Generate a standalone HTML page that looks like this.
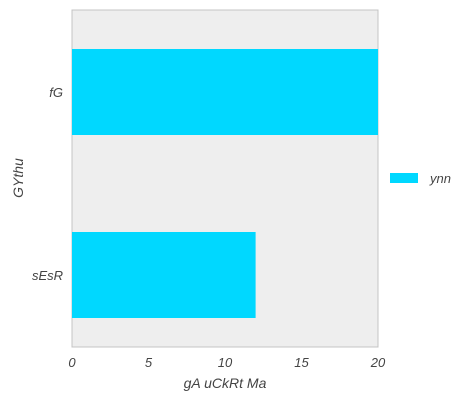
<!DOCTYPE html>
<html><head><meta charset="utf-8"><style>
body{margin:0;background:#fff;font-family:"Liberation Sans",sans-serif;}
svg text{font-family:"Liberation Sans",sans-serif;font-style:italic;fill:#444;}
</style></head><body>
<svg width="469" height="402">
<rect x="72" y="10" width="306" height="337" fill="#eeeeee" stroke="#c4c4c4" stroke-width="1"/>
<g id="bars"></g><g id="xt"></g><g id="yt"></g>
<text x="225" y="388" font-size="14" text-anchor="middle">gA uCkRt Ma</text>
<text transform="translate(23,178) rotate(-90)" font-size="14" text-anchor="middle">GYthu</text>
<g>
<rect x="390" y="173" width="28" height="10" fill="#00d8ff"/>
<text x="430" y="183" font-size="13">ynn</text>
</g>
</svg>
<script>
const categories=["fG","sEsR"];
const values=[20,12];
const xTicks=[0,5,10,15,20];
const ns="http://www.w3.org/2000/svg";
const x0=72,x1=378,xmax=20;
const xs=v=>x0+(x1-x0)*v/xmax;
const yCenters=[92,275];
const bh=86;
const bars=document.getElementById('bars');
categories.forEach((c,i)=>{
 const r=document.createElementNS(ns,'rect');
 r.setAttribute('x',xs(0));r.setAttribute('y',yCenters[i]-bh/2);
 r.setAttribute('width',xs(values[i])-xs(0));r.setAttribute('height',bh);
 r.setAttribute('fill','#00d8ff');
 
 
 bars.appendChild(r);
 const t=document.createElementNS(ns,'text');
 t.setAttribute('x',63);t.setAttribute('y',yCenters[i]+5);
 t.setAttribute('text-anchor','end');t.setAttribute('font-size','13');
 t.textContent=c;
 
 
 document.getElementById('yt').appendChild(t);
});
xTicks.forEach(v=>{
 const t=document.createElementNS(ns,'text');
 t.setAttribute('x',xs(v));t.setAttribute('y',367);
 t.setAttribute('text-anchor','middle');t.setAttribute('font-size','13');
 t.textContent=v;
 
 
 document.getElementById('xt').appendChild(t);
});
</script>
</body></html>
